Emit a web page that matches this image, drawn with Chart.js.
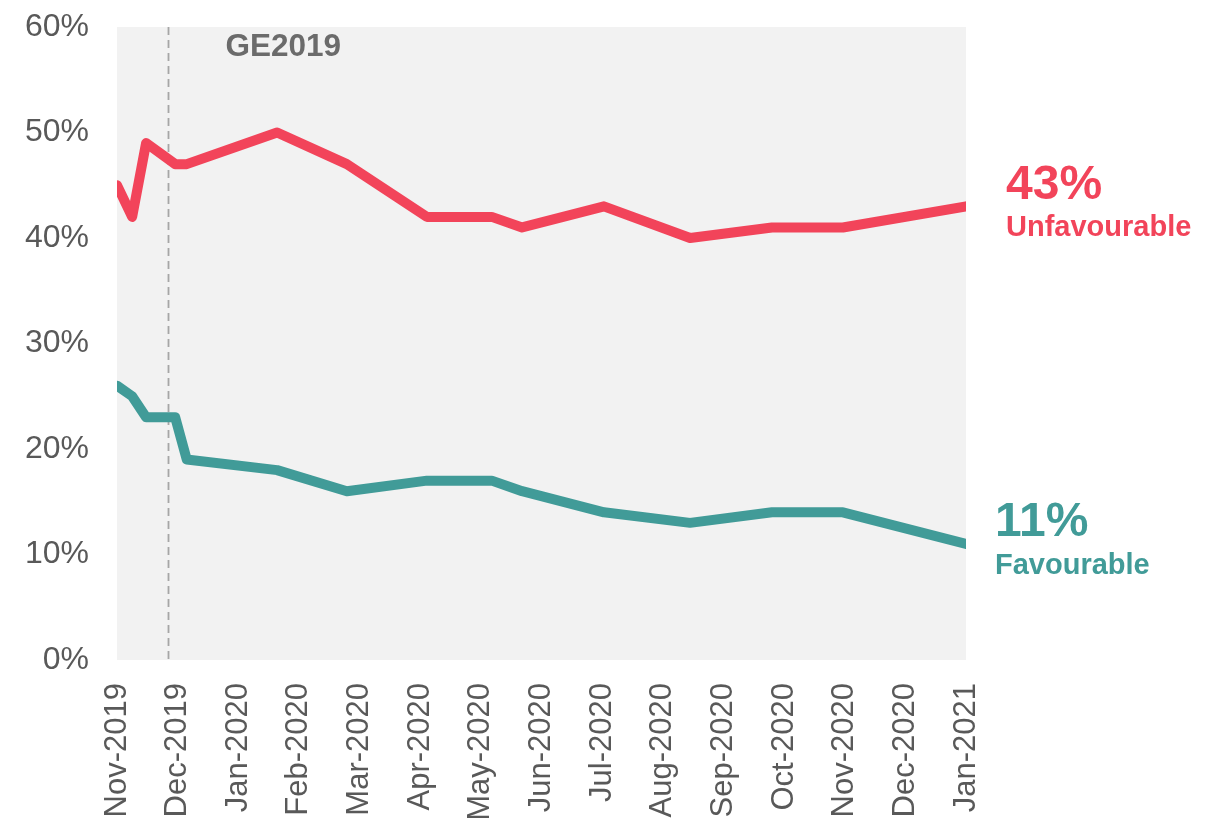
<!DOCTYPE html>
<html>
<head>
<meta charset="utf-8">
<script src="https://cdn.jsdelivr.net/npm/chart.js@4.4.0/dist/chart.umd.min.js"></script>
<style>
  html, body { margin: 0; padding: 0; background: #ffffff; }
  #wrap { width: 1217px; height: 818px; position: relative; }
</style>
</head>
<body>
<div id="wrap"><canvas id="c" width="1217" height="818"></canvas></div>
<script>
// Tick labels (one per month, from Nov-2019)
const monthLabels = ['Nov-2019','Dec-2019','Jan-2020','Feb-2020','Mar-2020','Apr-2020','May-2020',
  'Jun-2020','Jul-2020','Aug-2020','Sep-2020','Oct-2020','Nov-2020','Dec-2020','Jan-2021'];
// Survey dates, in months after the Nov-2019 tick
const surveyPos = [0, 0.25, 0.48, 0.96, 1.15, 2.64, 3.79, 5.11, 6.18, 6.68, 8.03, 9.45, 10.80, 11.97, 14.0];
// Series values (%)
const unfavourable = [45, 42, 49, 47, 47, 50, 47, 42, 42, 41, 43, 40, 41, 41, 43];
const favourable   = [26, 25, 23, 23, 19, 18, 16, 17, 17, 16, 14, 13, 14, 14, 11];
// Event marker
const gePos = 0.84;
const geLabel = 'GE2019';

const RED = '#F2445A';
const TEAL = '#419B98';
const GREY = '#595959';

const toPts = (vals) => vals.map((v, i) => ({ x: surveyPos[i], y: v }));

const bgPlugin = {
  id: 'bg',
  beforeDraw(chart) {
    const { ctx, chartArea: a } = chart;
    ctx.save();
    ctx.fillStyle = '#F2F2F2';
    ctx.fillRect(a.left, a.top, a.right - a.left, a.bottom - a.top);
    ctx.restore();
  },
  beforeDatasetsDraw(chart) {
    const { ctx, chartArea: a, scales } = chart;
    const x = Math.round(scales.x.getPixelForValue(gePos)) + 0.5;
    ctx.save();
    ctx.strokeStyle = '#A6A6A6';
    ctx.lineWidth = 1.8;
    ctx.setLineDash([8, 5]);
    ctx.beginPath();
    ctx.moveTo(x, a.top);
    ctx.lineTo(x, a.bottom);
    ctx.stroke();
    ctx.setLineDash([]);
    ctx.fillStyle = '#6B6B6B';
    ctx.font = 'bold 31.5px "Liberation Sans", Arial, sans-serif';
    ctx.textAlign = 'left';
    ctx.textBaseline = 'middle';
    ctx.fillText(geLabel, x + 57, a.top + 20);
    ctx.restore();
  },
  afterDraw(chart) {
    const { ctx, chartArea: a, scales } = chart;
    const n = surveyPos.length - 1;
    const labels = [
      { val: unfavourable[n], name: 'Unfavourable', color: RED, dx: 40 },
      { val: favourable[n], name: 'Favourable', color: TEAL, dx: 29 }
    ];
    ctx.save();
    ctx.textAlign = 'left';
    ctx.textBaseline = 'middle';
    labels.forEach(l => {
      const y = scales.y.getPixelForValue(l.val);
      ctx.fillStyle = l.color;
      ctx.font = 'bold 48px "Liberation Sans", Arial, sans-serif';
      ctx.fillText(l.val + '%', a.right + l.dx, y - 21);
      ctx.font = 'bold 29px "Liberation Sans", Arial, sans-serif';
      ctx.fillText(l.name, a.right + l.dx, y + 22);
    });
    ctx.restore();
  }
};

new Chart(document.getElementById('c'), {
  type: 'line',
  data: {
    datasets: [
      { label: 'Unfavourable', data: toPts(unfavourable), borderColor: RED, borderWidth: 10,
        pointRadius: 0, tension: 0, borderJoinStyle: 'round', borderCapStyle: 'round', fill: false },
      { label: 'Favourable', data: toPts(favourable), borderColor: TEAL, borderWidth: 10,
        pointRadius: 0, tension: 0, borderJoinStyle: 'round', borderCapStyle: 'round', fill: false }
    ]
  },
  options: {
    responsive: false,
    animation: false,
    layout: { padding: { left: 0, right: 251, top: 27, bottom: 0 } },
    plugins: { legend: { display: false }, tooltip: { enabled: false }, title: { display: false } },
    scales: {
      x: {
        type: 'linear', min: 0, max: 14, offset: false,
        grid: { display: false }, border: { display: false },
        afterFit(s) { s.height = 158; s.paddingLeft = 0; s.paddingRight = 0; },
        ticks: {
          stepSize: 1, autoSkip: false, maxTicksLimit: 30,
          minRotation: 90, maxRotation: 90, padding: 15,
          color: GREY, font: { family: '"Liberation Sans", Arial, sans-serif', size: 31 },
          callback: (v) => monthLabels[v] ?? ''
        }
      },
      y: {
        min: 0, max: 60,
        grid: { display: false }, border: { display: false },
        afterFit(s) { s.width = 117; s.paddingTop = 0; s.paddingBottom = 0; },
        ticks: {
          stepSize: 10, padding: 20,
          color: GREY, font: { family: '"Liberation Sans", Arial, sans-serif', size: 32 },
          callback: (v) => v + '%'
        }
      }
    }
  },
  plugins: [bgPlugin]
});
</script>
</body>
</html>
